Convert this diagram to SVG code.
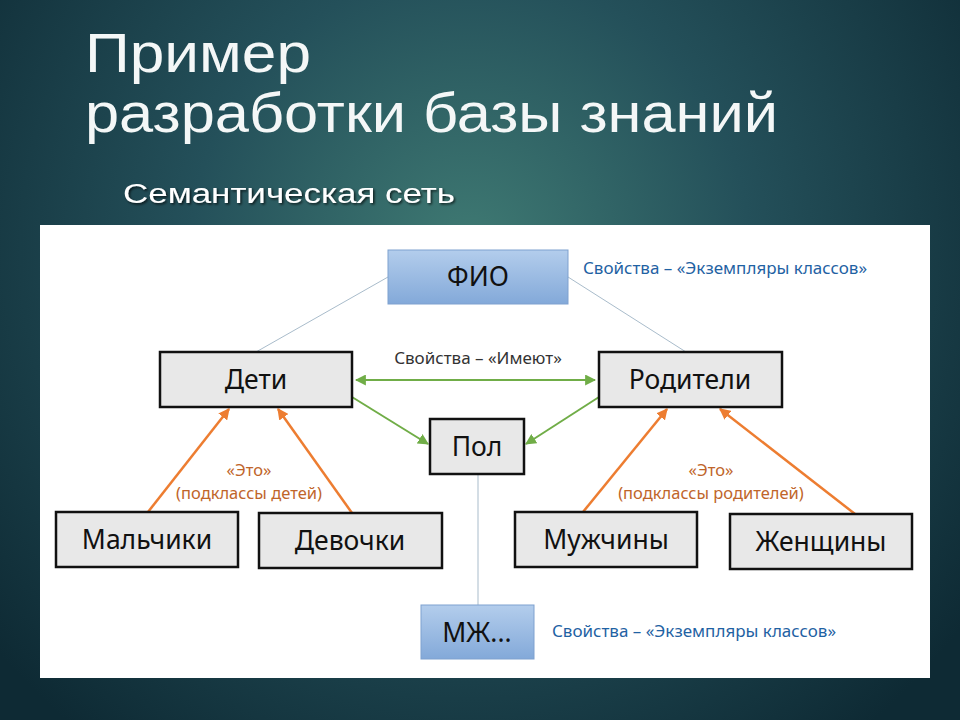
<svg xmlns="http://www.w3.org/2000/svg" width="960" height="720" viewBox="0 0 960 720">
<defs>
<radialGradient id="bg" cx="470" cy="250" r="620" gradientUnits="userSpaceOnUse">
<stop offset="0" stop-color="#3f7a73"/>
<stop offset="0.45" stop-color="#24505a"/>
<stop offset="1" stop-color="#0e2a34"/>
</radialGradient>
<linearGradient id="blue" x1="0" y1="0" x2="0" y2="1">
<stop offset="0" stop-color="#b3cdec"/>
<stop offset="1" stop-color="#83a9d9"/>
</linearGradient>
<marker id="ag" viewBox="0 0 10 10" refX="9" refY="5" markerWidth="5.5" markerHeight="5.5" orient="auto-start-reverse" markerUnits="strokeWidth">
<path d="M0,0 L10,5 L0,10 z" fill="#70ad47"/>
</marker>
<marker id="ao" viewBox="0 0 10 10" refX="9" refY="5" markerWidth="4.5" markerHeight="4.5" orient="auto" markerUnits="strokeWidth">
<path d="M0,0 L10,5 L0,10 z" fill="#ed7d31"/>
</marker>
<filter id="sh" x="-5%" y="-20%" width="110%" height="150%">
<feDropShadow dx="1.5" dy="1.5" stdDeviation="0.8" flood-color="#000" flood-opacity="0.7"/>
</filter>
<style>
.title{font-family:"Liberation Sans",Arial,sans-serif;fill:#f4f7f7;font-size:56px}
.sub{font-family:"Liberation Sans",Arial,sans-serif;fill:#ffffff;font-size:27px}
.box{fill:#e8e8e8;stroke:#111;stroke-width:2.5}
.bbox{fill:url(#blue);stroke:#7ea1cf;stroke-width:1}
.nt{font-family:"Noto Sans","Open Sans",sans-serif;font-size:26.5px;fill:#111;text-anchor:middle}
.lbl{font-family:"Noto Sans","Open Sans",sans-serif;font-size:17px;text-anchor:middle}
.sm{font-size:16.5px}
.thin{stroke:#a9bccb;stroke-width:1;fill:none}
.g{stroke:#70ad47;stroke-width:2;fill:none}
.o{stroke:#ed7d31;stroke-width:2.5;fill:none}
</style>
</defs>
<rect width="960" height="720" fill="url(#bg)"/>
<text class="title" x="85" y="72" textLength="226" lengthAdjust="spacingAndGlyphs">Пример</text>
<text class="title" x="85" y="132" textLength="693" lengthAdjust="spacingAndGlyphs">разработки базы знаний</text>
<text class="sub" x="123" y="203" filter="url(#sh)" textLength="332" lengthAdjust="spacingAndGlyphs">Семантическая сеть</text>
<rect x="40" y="225" width="890" height="453" fill="#ffffff"/>

<g id="connectors">
<line class="thin" x1="388" y1="277" x2="256" y2="352"/>
<line class="thin" x1="568" y1="277" x2="686" y2="352"/>
<line class="thin" x1="478" y1="474" x2="478" y2="605" stroke="#9fb8d6"/>
<line class="g" x1="356" y1="380" x2="595" y2="380" marker-start="url(#ag)" marker-end="url(#ag)"/>
<line class="g" x1="352" y1="397" x2="428" y2="444" marker-end="url(#ag)"/>
<line class="g" x1="599" y1="397" x2="526" y2="444" marker-end="url(#ag)"/>
<line class="o" x1="148" y1="512" x2="229" y2="409" marker-end="url(#ao)"/>
<line class="o" x1="352" y1="513" x2="278" y2="409" marker-end="url(#ao)"/>
<line class="o" x1="583" y1="512" x2="667" y2="409" marker-end="url(#ao)"/>
<line class="o" x1="855" y1="514" x2="720" y2="409" marker-end="url(#ao)"/>
<text class="lbl" x="478" y="364" fill="#333">Свойства – «Имеют»</text>
<text class="lbl sm" x="249" y="476" fill="#c0652a">«Это»</text>
<text class="lbl sm" x="249" y="499" fill="#c0652a">(подклассы детей)</text>
<text class="lbl sm" x="711" y="476" fill="#c0652a">«Это»</text>
<text class="lbl sm" x="711" y="499" fill="#c0652a">(подклассы родителей)</text>
<text class="lbl" x="725" y="274" fill="#1f62a3">Свойства – «Экземпляры классов»</text>
<text class="lbl" x="694" y="637" fill="#1f62a3">Свойства – «Экземпляры классов»</text>
</g>

<g id="fio"><rect class="bbox" x="388" y="250" width="180" height="54"/><text class="nt" x="478" y="286">ФИО</text></g>
<g id="deti"><rect class="box" x="160" y="352" width="192" height="55"/><text class="nt" x="256" y="389">Дети</text></g>
<g id="roditeli"><rect class="box" x="599" y="352" width="183" height="55"/><text class="nt" x="690" y="389">Родители</text></g>
<g id="pol"><rect class="box" x="430" y="419" width="94" height="55"/><text class="nt" x="477" y="456">Пол</text></g>
<g id="malchiki"><rect class="box" x="56" y="512" width="182" height="55"/><text class="nt" x="147" y="549">Мальчики</text></g>
<g id="devochki"><rect class="box" x="259" y="513" width="183" height="55"/><text class="nt" x="350" y="550">Девочки</text></g>
<g id="muzhchiny"><rect class="box" x="515" y="512" width="182" height="55"/><text class="nt" x="606" y="549">Мужчины</text></g>
<g id="zhenshchiny"><rect class="box" x="730" y="514" width="182" height="55"/><text class="nt" x="821" y="551">Женщины</text></g>
<g id="mzh"><rect class="bbox" x="421" y="605" width="113" height="54"/><text class="nt" x="477" y="642">МЖ...</text></g>
</svg>
